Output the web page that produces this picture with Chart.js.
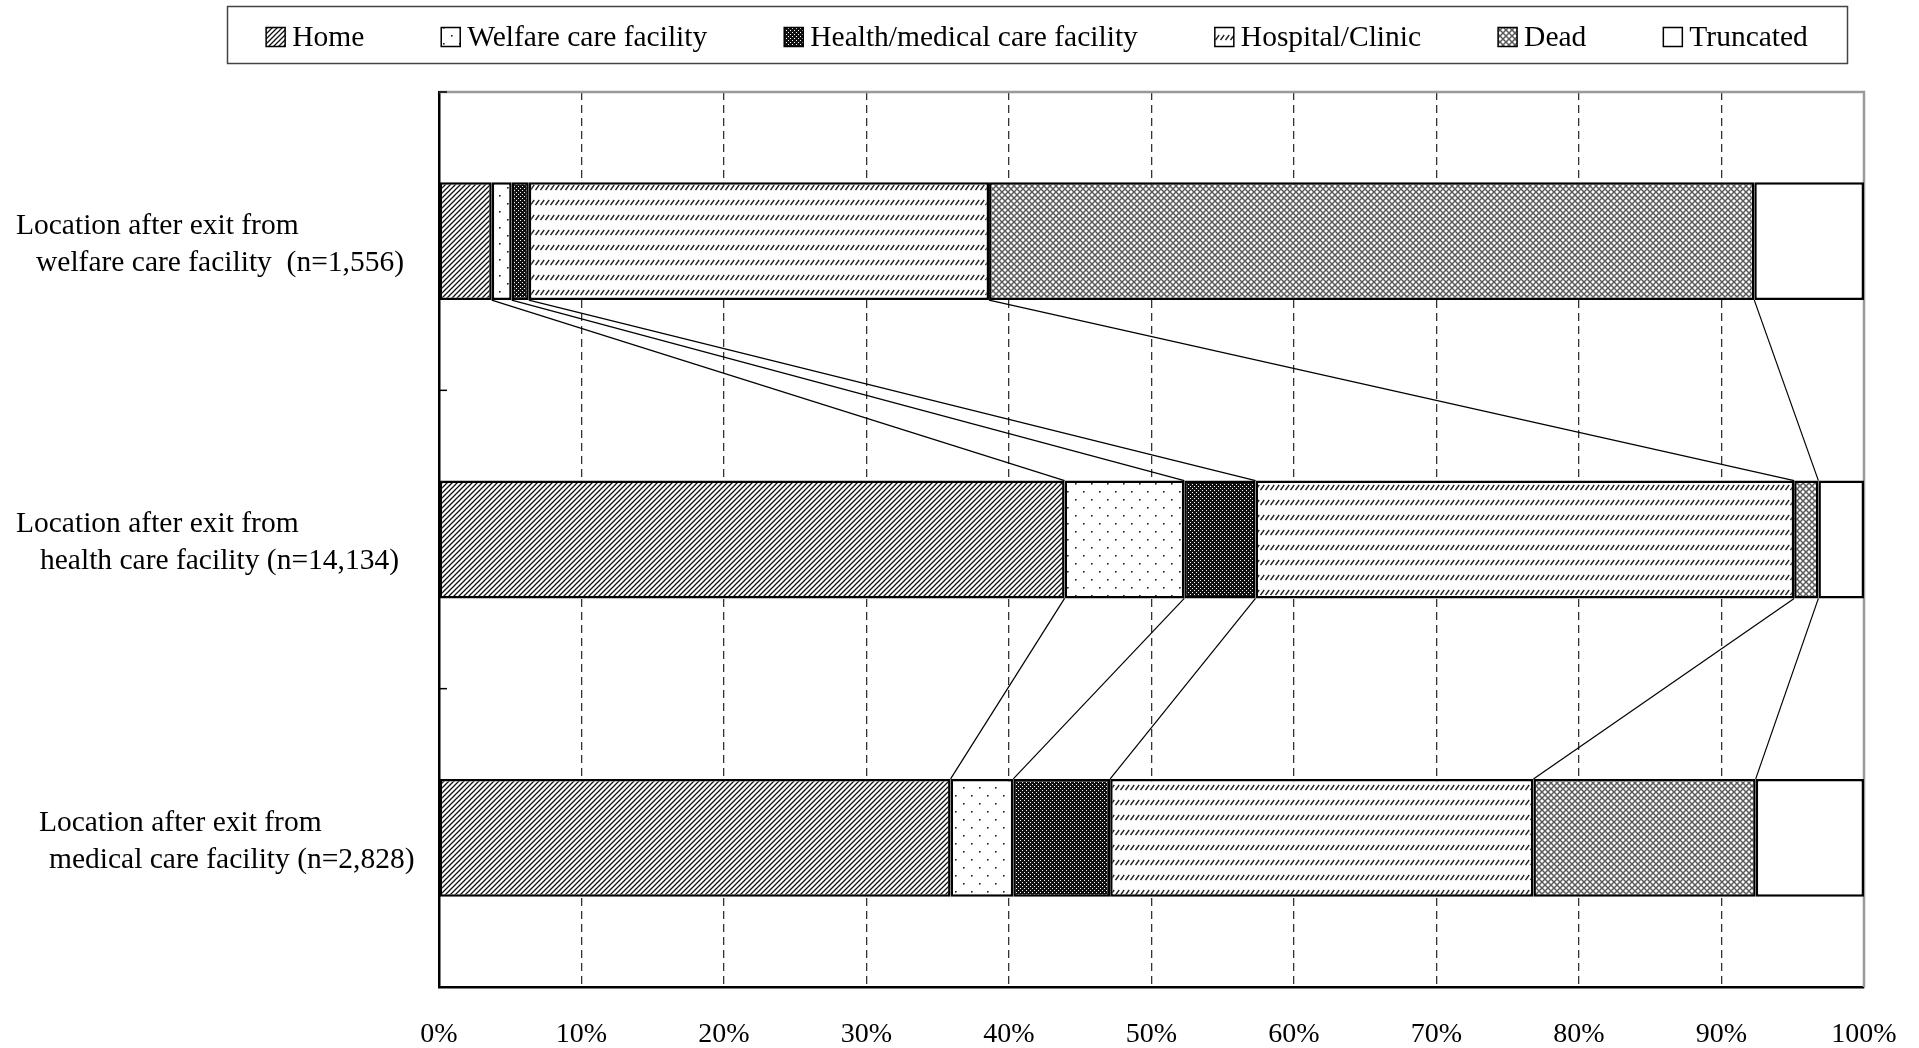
<!DOCTYPE html>
<html><head><meta charset="utf-8">
<script src="https://cdn.jsdelivr.net/npm/chart.js@4/dist/chart.umd.min.js"></script>
<style>html,body{margin:0;padding:0;background:#fff;overflow:hidden}#wrap{width:1919px;height:1048px;position:relative}</style>
</head><body><div id="wrap"><canvas id="c" width="1919" height="1048"></canvas></div>
<script>
// ---- data ----
const categories = ['welfare', 'health', 'medical'];
const categoryLines = [
  ['Location after exit from', 'welfare care facility  (n=1,556)'],
  ['Location after exit from', 'health care facility (n=14,134)'],
  ['Location after exit from', 'medical care facility (n=2,828)']
];
const seriesNames = ['Home', 'Welfare care facility', 'Health/medical care facility', 'Hospital/Clinic', 'Dead', 'Truncated'];
const home          = [3.7, 43.9, 35.9];
const welfare       = [1.4, 8.4, 4.4];
const healthMedical = [1.2, 5.0, 6.8];
const hospital      = [32.3, 37.8, 29.7];
const dead          = [53.7, 1.7, 15.6];
const truncated     = [7.7, 3.2, 7.6];
const xTickValues   = [0, 10, 20, 30, 40, 50, 60, 70, 80, 90, 100];

// ---- styles ----
const FONT = '"Liberation Serif", "Times New Roman", serif';
const FSIZE = 29.5;
const labelIndent = [[16, 36], [16, 40], [39, 49]];

function tile(w, h, draw) {
  const c = document.createElement('canvas'); c.width = w; c.height = h;
  const t = c.getContext('2d'); t.fillStyle = '#fff'; t.fillRect(0, 0, w, h); draw(t, w, h);
  return document.getElementById('c').getContext('2d').createPattern(c, 'repeat');
}
const pHome = tile(5, 5, (t) => {
  t.strokeStyle = '#111'; t.lineWidth = 1.3;
  t.beginPath(); t.moveTo(-1, 6); t.lineTo(6, -1); t.moveTo(-1, 1); t.lineTo(1, -1); t.moveTo(4, 6); t.lineTo(6, 4); t.stroke();
});
const pWelfare = tile(16, 16, (t) => {
  t.fillStyle = '#222'; t.fillRect(3, 3, 1.6, 1.6); t.fillRect(11, 11, 1.6, 1.6);
});
const pHealth = tile(4, 4, (t) => {
  t.fillStyle = '#111'; t.fillRect(0, 0, 4, 4); t.fillStyle = '#fff'; t.fillRect(0, 0, 1, 1); t.fillRect(2, 2, 1, 1);
});
const pHospital = tile(5, 15, (t) => {
  t.strokeStyle = '#222'; t.lineWidth = 1.4;
  t.beginPath(); t.moveTo(0.5, 10); t.lineTo(4.2, 5); t.stroke();
});
const pDead = tile(6, 6, (t) => {
  t.strokeStyle = '#5a5a5a'; t.lineWidth = 1.5;
  t.beginPath(); t.moveTo(0, 0); t.lineTo(6, 6); t.moveTo(0, 6); t.lineTo(6, 0); t.stroke();
});
const fills = [pHome, pWelfare, pHealth, pHospital, pDead, '#fff'];
const seriesData = [home, welfare, healthMedical, hospital, dead, truncated];

const datasets = seriesNames.map((name, i) => ({
  label: name, data: seriesData[i], backgroundColor: fills[i],
  borderColor: '#000', borderWidth: 2.5, borderSkipped: false,
  categoryPercentage: 1.0, barPercentage: 0.395
}));

const framePlugin = {
  id: 'frame',
  beforeDatasetsDraw(chart) {
    const { ctx, chartArea: a } = chart;
    ctx.save(); ctx.strokeStyle = '#999'; ctx.lineWidth = 2.5;
    ctx.beginPath(); ctx.moveTo(a.left, a.top); ctx.lineTo(a.right, a.top); ctx.lineTo(a.right, a.bottom); ctx.stroke();
    ctx.restore();
  }
};
const connectorPlugin = {
  id: 'connectors',
  afterDatasetsDraw(chart) {
    const ctx = chart.ctx; const n = chart.data.labels.length;
    ctx.save(); ctx.strokeStyle = '#000'; ctx.lineWidth = 1.2;
    for (let d = 0; d < chart.data.datasets.length - 1; d++) {
      const meta = chart.getDatasetMeta(d);
      for (let j = 0; j < n - 1; j++) {
        const a = meta.data[j], b = meta.data[j + 1];
        ctx.beginPath(); ctx.moveTo(a.x, a.y + a.height / 2); ctx.lineTo(b.x, b.y - b.height / 2); ctx.stroke();
      }
    }
    ctx.restore();
  }
};
const decorPlugin = {
  id: 'decor',
  afterDraw(chart) {
    const { ctx, chartArea: area } = chart; const ys = chart.scales.y;
    ctx.save();
    // y labels
    ctx.font = FSIZE + 'px ' + FONT; ctx.fillStyle = '#000'; ctx.textAlign = 'left'; ctx.textBaseline = 'middle';
    categoryLines.forEach((lines, j) => {
      const yc = ys.getPixelForValue(j);
      ctx.fillText(lines[0], labelIndent[j][0], yc - 15);
      ctx.fillText(lines[1], labelIndent[j][1], yc + 22);
    });
    // y axis ticks (category boundaries), inward
    ctx.strokeStyle = '#000'; ctx.lineWidth = 1.5;
    const bounds = [area.top];
    for (let j = 0; j < categories.length - 1; j++) bounds.push((ys.getPixelForValue(j) + ys.getPixelForValue(j + 1)) / 2);
    bounds.forEach(y => { ctx.beginPath(); ctx.moveTo(area.left, y); ctx.lineTo(area.left + 8, y); ctx.stroke(); });
    // legend
    const gap = 77, box = 19, tgap = 7, cx = 1037, cy = 37;
    const widths = seriesNames.map(s => ctx.measureText(s).width);
    const total = widths.reduce((s, w) => s + box + tgap + w, 0) + gap * (seriesNames.length - 1);
    ctx.lineWidth = 1.5; ctx.strokeStyle = '#444';
    ctx.strokeRect(227.5, 6.5, 1620, 57);
    let x = cx - total / 2;
    seriesNames.forEach((s, i) => {
      ctx.fillStyle = fills[i]; ctx.fillRect(x, cy - box / 2, box, box);
      ctx.strokeStyle = '#000'; ctx.lineWidth = 1.5; ctx.strokeRect(x, cy - box / 2, box, box);
      ctx.fillStyle = '#000'; ctx.fillText(s, x + box + tgap, cy + 1);
      x += box + tgap + widths[i] + gap;
    });
    ctx.restore();
  }
};

new Chart(document.getElementById('c'), {
  type: 'bar',
  data: { labels: categories, datasets },
  options: {
    indexAxis: 'y', responsive: false, animation: false, maintainAspectRatio: false,
    layout: { padding: { top: 92, right: 55, bottom: 0, left: 0 } },
    plugins: { legend: { display: false }, tooltip: { enabled: false } },
    scales: {
      x: {
        stacked: true, min: 0, max: 100, position: 'bottom',
        afterBuildTicks(scale) { scale.ticks = xTickValues.map(v => ({ value: v })); },
        afterFit(scale) { scale.height = 61; scale.paddingLeft = 0; scale.paddingRight = 0; },
        ticks: { callback: v => v + '%', font: { family: FONT, size: 28 }, color: '#000', padding: 31, maxRotation: 0 },
        grid: { color: c => (c.tick && (c.tick.value === 0 || c.tick.value === 100)) ? 'rgba(0,0,0,0)' : '#333', lineWidth: 1.3, drawTicks: false },
        border: { display: true, color: '#000', width: 2.5, dash: [8, 5] }
      },
      y: {
        stacked: true, offset: true,
        afterFit(scale) { scale.width = 439; },
        ticks: { display: false },
        grid: { display: false, drawTicks: false },
        border: { display: true, color: '#000', width: 2.5 }
      }
    }
  },
  plugins: [framePlugin, connectorPlugin, decorPlugin]
});
</script></body></html>
